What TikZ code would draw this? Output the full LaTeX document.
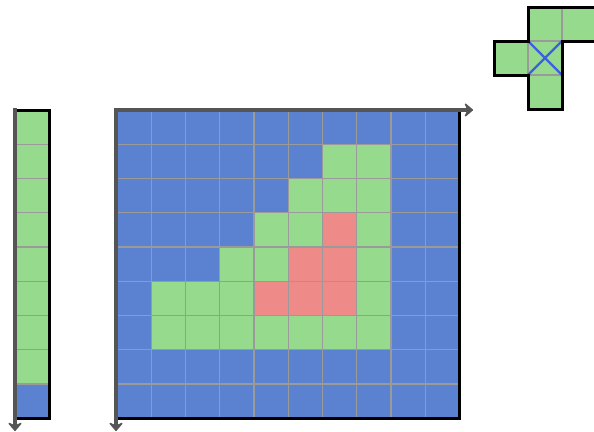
\documentclass[tikz,border=0pt]{standalone}
\usetikzlibrary{arrows.meta}
\definecolor{cblue}{HTML}{5A82D0}
\definecolor{cgreen}{HTML}{96DA8E}
\definecolor{cred}{HTML}{EE8A88}
\definecolor{cgrid}{HTML}{9A9A9A}
\definecolor{caxis}{HTML}{555555}
\definecolor{cx}{HTML}{3D5FE0}
\tikzset{
  gridline/.style={draw=cgrid, line width=1.2pt},
  border/.style={draw=black, line width=3pt},
  axis/.style={draw=caxis, line width=4.5pt, -{Stealth[length=10pt,width=17pt,inset=4pt,round]}},
}
\begin{document}
\begin{tikzpicture}[x=1pt,y=-1pt]
\useasboundingbox (0,0) rectangle (594,431);
\def\s{34.25}
% main grid
\fill[cblue] (117,110) rectangle ++(10*\s,9*\s);
\foreach \c/\r in {6/1,7/1,5/2,6/2,7/2,4/3,5/3,7/3,3/4,4/4,7/4,1/5,2/5,3/5,7/5,1/6,2/6,3/6,4/6,5/6,6/6,7/6}
  \fill[cgreen] (117+\c*\s,110+\r*\s) rectangle ++(\s,\s);
\foreach \c/\r in {6/3,5/4,6/4,4/5,5/5,6/5}
  \fill[cred] (117+\c*\s,110+\r*\s) rectangle ++(\s,\s);
\foreach \i in {1,...,9} \draw[gridline] (117+\i*\s,110) -- ++(0,9*\s);
\foreach \j in {1,...,8} \draw[gridline] (117,110+\j*\s) -- ++(10*\s,0);
\coordinate (gTR) at (117+10*\s,110);
\coordinate (gBR) at (117+10*\s,110+9*\s);
\coordinate (gBL) at (117,110+9*\s);
\draw[border] (gTR) -- (gBR) -- (gBL);
\coordinate (o1) at (116,110);
\coordinate (x1) at (473,110);
\coordinate (y1) at (116,431);
\coordinate (o1a) at (116,108);
\draw[axis] (o1) -- (x1);
\draw[axis] (o1a) -- (y1);
% left column
\fill[cgreen] (15,110) rectangle ++(\s,8*\s);
\fill[cblue] (15,110+8*\s) rectangle ++(\s,\s);
\foreach \j in {1,...,8} \draw[gridline] (15,110+\j*\s) -- ++(\s,0);
\coordinate (cTL) at (15,110);
\coordinate (cTR) at (15+\s,110);
\coordinate (cBR) at (15+\s,110+9*\s);
\coordinate (cBL) at (15,110+9*\s);
\draw[border] (cTL) -- (cTR) -- (cBR) -- (cBL);
\coordinate (o2) at (15,108);
\coordinate (y2) at (15,431);
\draw[axis] (o2) -- (y2);
% cross
\def\t{34}
\fill[cgreen] (528,7) rectangle ++(2*\t,\t);
\fill[cgreen] (494,41) rectangle ++(2*\t,\t);
\fill[cgreen] (528,75) rectangle ++(\t,\t);
\draw[gridline] (562,7) -- (562,41) -- (528,41) -- (528,75) -- (562,75);
\draw[draw=cx, line width=2.2pt] (528,41) -- (562,75) (562,41) -- (528,75);
\draw[border, line join=miter] (600,7) -- (528,7) -- (528,41) -- (494,41) -- (494,75) -- (528,75) -- (528,109) -- (562,109) -- (562,41) -- (600,41);
\end{tikzpicture}
\end{document}
